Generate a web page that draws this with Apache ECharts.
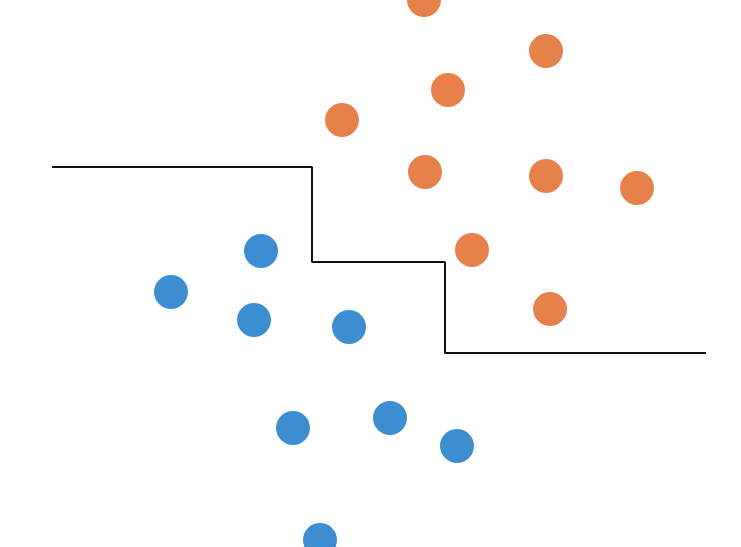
<!DOCTYPE html>
<html lang="en" style="height: 100%">
<head>
    <meta charset="UTF-8">
    <title>Decision boundary</title>
    <script type="text/javascript" src="https://cdn.jsdelivr.net/npm/echarts@6/dist/echarts.min.js"></script>
</head>
<body style="height: 100%; margin: 0; background: #fff">
<div id="container" style="width: 741px; height: 547px"></div>
<script type="text/javascript">
    var orangePoints = [[424, 0], [546, 51], [448, 90], [342, 120], [425, 172], [546, 176], [637, 188], [472, 250], [550, 309]];
    var bluePoints = [[261, 251], [171, 292], [254, 320], [349, 327], [293, 428], [390, 418], [457, 446], [320, 540]];
    var boundary = [[52, 167], [312, 167], [312, 262], [445, 262], [445, 353], [706, 353]];

    var myChart = echarts.init(document.getElementById('container'));
    myChart.setOption({
        animation: false,
        grid: {left: 0, right: 0, top: 0, bottom: 0},
        xAxis: {type: 'value', min: 0, max: 741, show: false},
        yAxis: {type: 'value', min: 0, max: 547, inverse: true, show: false},
        series: [{
            type: 'line',
            data: boundary,
            symbol: 'none',
            lineStyle: {color: '#111', width: 2}
        }, {
            type: 'scatter',
            data: orangePoints,
            symbolSize: 34,
            itemStyle: {color: '#E0621F'}
        }, {
            type: 'scatter',
            data: bluePoints,
            symbolSize: 34,
            itemStyle: {color: '#0B72C4'}
        }]
    });
</script>
</body>
</html>
